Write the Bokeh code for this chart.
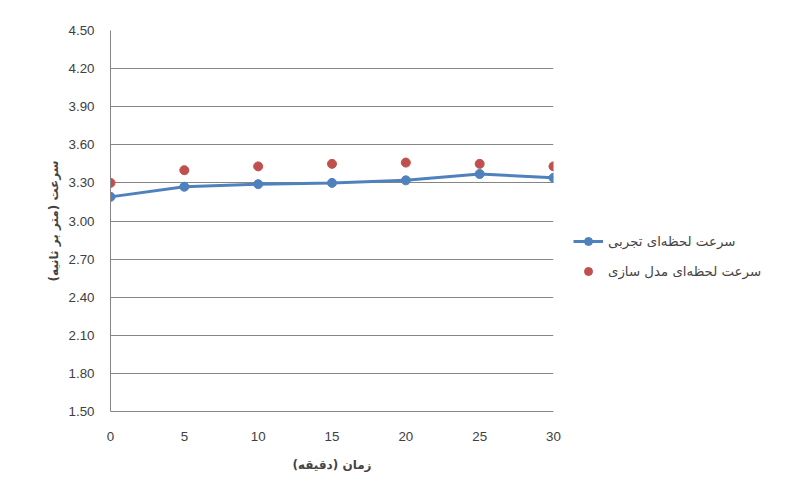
from bokeh.plotting import figure
from bokeh.models import Legend, LegendItem, FixedTicker, NumeralTickFormatter, Range1d
from bokeh.embed import file_html
from bokeh.resources import INLINE

minutes = [0, 5, 10, 15, 20, 25, 30]
exp_speed = [3.19, 3.27, 3.29, 3.30, 3.32, 3.37, 3.34]
model_speed = [3.30, 3.40, 3.43, 3.45, 3.46, 3.45, 3.43]
y_ticks = [1.5, 1.8, 2.1, 2.4, 2.7, 3.0, 3.3, 3.6, 3.9, 4.2, 4.5]

p = figure(frame_width=443, frame_height=381, output_backend="svg", toolbar_location=None,
           x_range=Range1d(0, 30), y_range=Range1d(1.5, 4.5),
           min_border_left=110, min_border_right=10, min_border_top=30, min_border_bottom=55)
p.outline_line_color = None
p.border_fill_color = "white"

r1 = p.line(minutes, exp_speed, line_color="#4f81bd", line_width=3)
r2 = p.scatter(minutes, exp_speed, size=9, color="#4f81bd")
r3 = p.scatter(minutes, model_speed, size=9, color="#c0504d")

legend = Legend(items=[LegendItem(label="سرعت لحظه‌ای تجربی", renderers=[r1, r2]),
                       LegendItem(label="سرعت لحظه‌ای مدل سازی", renderers=[r3])],
                location=(20, 130), border_line_color=None, background_fill_alpha=0,
                label_text_font="DejaVu Sans", margin=0,
                label_text_font_size="10pt", glyph_width=30, spacing=10)
p.add_layout(legend, "right")

p.xaxis.ticker = FixedTicker(ticks=minutes)
p.yaxis.ticker = FixedTicker(ticks=y_ticks)
p.yaxis.formatter = NumeralTickFormatter(format="0.00")
p.xgrid.visible = False
p.ygrid.grid_line_color = "#868686"
p.ygrid.grid_line_alpha = 1
for ax in (p.xaxis, p.yaxis):
    ax.axis_line_color = "#868686"
    ax.major_tick_line_color = None
    ax.minor_tick_line_color = None
    ax.major_label_text_font = "Liberation Sans"
    ax.major_label_text_font_size = "10pt"
    ax.major_label_text_color = "#404040"
    ax.axis_label_text_font = "DejaVu Sans"
    ax.axis_label_text_font_style = "bold"
    ax.axis_label_text_font_size = "9pt"
p.xaxis.major_label_standoff = 14
p.xaxis.axis_label_standoff = 14
p.yaxis.major_label_standoff = 10
p.xaxis.axis_label = "زمان (دقیقه)"
p.yaxis.axis_label = "سرعت (متر بر ثانیه)"

open("out.html", "w").write(file_html(p, INLINE))
